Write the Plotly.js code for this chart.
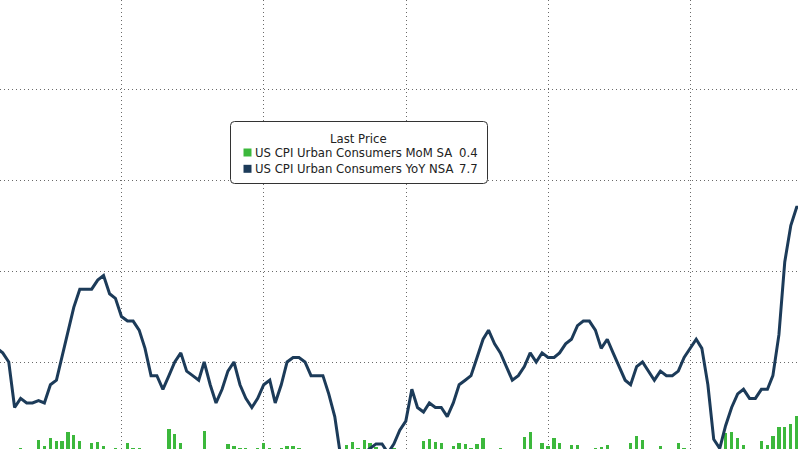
<!DOCTYPE html>
<html><head><meta charset="utf-8">
<script src="https://cdn.plot.ly/plotly-3.0.1.min.js"></script>
<style>html,body{margin:0;padding:0;background:#fff}#chart{width:798px;height:449px}</style>
</head><body><div id="chart"></div>
<script>
// Monthly observations, March 2010 .. July 2021 (plotted at month end)
const startYear = 2010, startMonth = 3;

const yoyNSA = [
  2.3, 2.2, 2.0, 1.0, 1.2, 1.1, 1.1, 1.15, 1.1, 1.5,
  1.6, 2.1, 2.7, 3.2, 3.6, 3.6, 3.6, 3.8, 3.9, 3.5, 3.4, 3.0,
  2.9, 2.9, 2.7, 2.3, 1.7, 1.7, 1.4, 1.7, 2.0, 2.2, 1.8, 1.7,
  1.6, 2.0, 1.5, 1.1, 1.4, 1.8, 2.0, 1.5, 1.2, 1.0, 1.2, 1.5,
  1.6, 1.1, 1.5, 2.0, 2.1, 2.1, 2.0, 1.7, 1.7, 1.7, 1.3, 0.8,
  -0.1, 0.0, -0.1, -0.2, 0.0, 0.1, 0.2, 0.2, 0.0, 0.2, 0.5, 0.7,
  1.4, 1.0, 0.9, 1.1, 1.0, 1.0, 0.8, 1.1, 1.5, 1.6, 1.7, 2.1,
  2.5, 2.7, 2.4, 2.2, 1.9, 1.6, 1.7, 1.9, 2.2, 2.0, 2.2, 2.1,
  2.1, 2.2, 2.4, 2.5, 2.8, 2.9, 2.9, 2.7, 2.3, 2.5, 2.2, 1.9,
  1.6, 1.5, 1.9, 2.0, 1.8, 1.6, 1.8, 1.7, 1.7, 1.8, 2.1, 2.3,
  2.5, 2.3, 1.5, 0.3, 0.1, 0.6, 1.0, 1.3, 1.4, 1.2, 1.2, 1.4,
  1.4, 1.7, 2.6, 4.2, 5.0, 5.4, 5.4
];

const momSA = [
  0.0, -0.1, -0.1, -0.1, 0.1, 0.0, 0.0, 0.29, 0.16, 0.33,
  0.26, 0.27, 0.47, 0.40, 0.26, -0.1, 0.22, 0.24, 0.16, 0.0, 0.1, 0.0,
  0.22, 0.12, 0.1, 0.0, -0.2, 0.0, 0.05, 0.53, 0.42, 0.21, -0.2, 0.0,
  0.05, 0.49, -0.2, -0.1, 0.05, 0.2, 0.16, 0.1, 0.1, 0.0, 0.1, 0.21,
  0.1, 0.08, 0.12, 0.15, 0.15, 0.1, 0.05, -0.1, 0.05, 0.0, -0.2, -0.3,
  -0.6, 0.18, 0.25, 0.1, 0.29, 0.22, 0.14, 0.0, -0.1, 0.1, 0.0, -0.1,
  0.0, -0.1, 0.27, 0.31, 0.24, 0.21, 0.0, 0.16, 0.21, 0.2, 0.12, 0.2,
  0.34, 0.05, -0.3, 0.1, -0.1, 0.05, 0.0, 0.35, 0.46, 0.0, 0.21, 0.15,
  0.32, 0.23, -0.1, 0.17, 0.18, 0.0, 0.0, 0.1, 0.13, 0.18, 0.0, -0.1,
  0.0, 0.21, 0.38, 0.29, 0.05, 0.05, 0.15, 0.0, 0.0, 0.22, 0.1, 0.05,
  0.03, 0.03, -0.4, -0.7, -0.1, 0.44, 0.46, 0.32, 0.18, 0.0, 0.0, 0.26,
  0.18, 0.37, 0.57, 0.57, 0.64, 0.81, 0.5
];

const legendTitle = 'Last Price';
const seriesNames = ['US CPI Urban Consumers MoM SA', 'US CPI Urban Consumers YoY NSA'];
const lastValues = ['0.4', '7.7'];
const seriesColors = ['#3cb83c', '#1c3b59'];

function monthEnd(i) {
  const d = new Date(Date.UTC(startYear, startMonth - 1 + i + 1, 0));
  return d.toISOString().slice(0, 10);
}
const dates = yoyNSA.map((_, i) => monthEnd(i));

const W = 798, H = 449;
const px = x => x / W;
const py = y => 1 - y / H;

const traces = [
  {
    type: 'bar', x: dates, y: momSA, name: seriesNames[0],
    marker: {color: seriesColors[0], line: {width: 0}},
    width: 17 * 86400000, hoverinfo: 'skip'
  },
  {
    type: 'scatter', mode: 'lines', x: dates, y: yoyNSA, name: seriesNames[1],
    line: {color: seriesColors[1], width: 3, shape: 'linear'}, hoverinfo: 'skip'
  }
];

function roundRect(x0, y0, x1, y1, r) {
  const P = (x, y) => px(x) + ',' + py(y);
  return 'M' + P(x0 + r, y0) + ' L' + P(x1 - r, y0) + ' Q' + P(x1, y0) + ' ' + P(x1, y0 + r) +
    ' L' + P(x1, y1 - r) + ' Q' + P(x1, y1) + ' ' + P(x1 - r, y1) +
    ' L' + P(x0 + r, y1) + ' Q' + P(x0, y1) + ' ' + P(x0, y1 - r) +
    ' L' + P(x0, y0 + r) + ' Q' + P(x0, y0) + ' ' + P(x0 + r, y0) + ' Z';
}

const font = {family: 'DejaVu Sans', size: 11.7, color: '#222'};
const rowY = [153, 169.3];

const shapes = [
  {type: 'path', xref: 'paper', yref: 'paper', path: roundRect(230.5, 121.5, 487.5, 183.5, 4),
   fillcolor: 'rgba(255,255,255,1)', line: {color: '#333', width: 1}, layer: 'above'}
];
seriesColors.forEach((c, i) => {
  shapes.push({type: 'rect', xref: 'paper', yref: 'paper',
    x0: px(243.5), x1: px(251.5), y0: py(rowY[i] - 4.5), y1: py(rowY[i] + 3.5),
    fillcolor: c, line: {width: 0}, layer: 'above'});
});

const annotations = [
  {xref: 'paper', yref: 'paper', x: px(358.5), y: py(138.5), text: legendTitle,
   showarrow: false, xanchor: 'center', yanchor: 'middle', font: font}
];
seriesNames.forEach((n, i) => {
  annotations.push({xref: 'paper', yref: 'paper', x: px(253.2), y: py(rowY[i]), text: n,
    showarrow: false, xanchor: 'left', yanchor: 'middle', font: font});
  annotations.push({xref: 'paper', yref: 'paper', x: px(480), y: py(rowY[i]), text: lastValues[i],
    showarrow: false, xanchor: 'right', yanchor: 'middle', font: font});
});

const layout = {
  width: W, height: H,
  margin: {l: 0, r: 0, t: 0, b: 0, pad: 0},
  paper_bgcolor: '#fff', plot_bgcolor: '#fff',
  showlegend: false,
  bargap: 0,
  font: {family: 'DejaVu Sans'},
  xaxis: {
    type: 'date', range: ['2010-04-16', '2021-07-07'],
    tick0: '2012-01-01', dtick: 'M24',
    showgrid: true, gridcolor: '#6a6a6a', gridwidth: 1, griddash: '1px,3px',
    showticklabels: false, ticks: '', zeroline: false, showline: false, fixedrange: true
  },
  yaxis: {
    range: [0.088, 9.956], tick0: 0, dtick: 2,
    showgrid: true, gridcolor: '#6a6a6a', gridwidth: 1, griddash: '1px,3px',
    showticklabels: false, ticks: '', zeroline: false, showline: false, fixedrange: true
  },
  shapes: shapes,
  annotations: annotations
};

Plotly.newPlot('chart', traces, layout, {staticPlot: true, displayModeBar: false});
</script>
</body></html>
